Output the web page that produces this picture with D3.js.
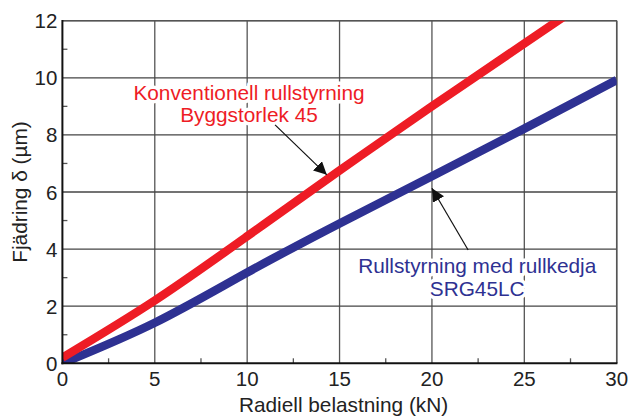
<!DOCTYPE html>
<html><head><meta charset="utf-8">
<script src="https://cdn.jsdelivr.net/npm/d3@7"></script>
<style>body{margin:0;background:#fff}svg{display:block}text{font-family:"Liberation Sans",Arial,sans-serif}</style>
</head><body>
<svg id="c" width="636" height="416"></svg>
<script>
const xTicks = [0,5,10,15,20,25,30];
const yTicks = [0,2,4,6,8,10,12];
const xMinor = [2.5,7.5,12.5,17.5,22.5,27.5];
const yMinor = [1,3,5,7,9,11];
const redX = [0,5,10,15,20,25,27.5];
const redY = [0.2,2.2,4.45,6.75,9.0,11.2,12.3];
const blueX = [0,5,10,15,20,25,30];
const blueY = [0,1.42,3.18,4.9,6.55,8.22,9.92];
const redLabel = ["Konventionell rullstyrning","Byggstorlek 45"];
const blueLabel = ["Rullstyrning med rullkedja","SRG45LC"];
const xTitle = "Radiell belastning (kN)";
const yTitle = "Fjädring δ (µm)";

const W=636,H=416, m={l:62.4,r:19.3,t:20.7,b:52.7};
const svg=d3.select("#c");
const x=d3.scaleLinear().domain([0,30]).range([m.l,W-m.r]);
const y=d3.scaleLinear().domain([0,12]).range([H-m.b,m.t]);

svg.append("defs").append("clipPath").attr("id","clip").append("rect")
  .attr("x",x(0)).attr("y",y(12)).attr("width",x(30)-x(0)).attr("height",y(0)-y(12));
const mk=svg.select("defs").append("marker").attr("id","ah").attr("viewBox","0 0 10 10")
  .attr("refX",10).attr("refY",5).attr("markerWidth",13).attr("markerHeight",13)
  .attr("markerUnits","userSpaceOnUse").attr("orient","auto");
mk.append("path").attr("d","M0,0L10,5L0,10z").attr("fill","#111");

const g=svg.append("g");
g.selectAll(".vg").data(xTicks.slice(1)).join("line")
  .attr("x1",d=>x(d)).attr("x2",d=>x(d)).attr("y1",y(0)).attr("y2",y(12))
  .attr("stroke","#555").attr("stroke-width",1.3);
g.selectAll(".hg").data(yTicks.slice(1)).join("line")
  .attr("x1",x(0)).attr("x2",x(30)).attr("y1",d=>y(d)).attr("y2",d=>y(d))
  .attr("stroke","#444").attr("stroke-width",1.3);
g.selectAll(".xm").data(xMinor).join("line")
  .attr("x1",d=>x(d)).attr("x2",d=>x(d)).attr("y1",y(0)).attr("y2",y(0)-5)
  .attr("stroke","#555").attr("stroke-width",1.3);
g.selectAll(".ym").data(yMinor).join("line")
  .attr("x1",x(0)).attr("x2",x(0)+5).attr("y1",d=>y(d)).attr("y2",d=>y(d))
  .attr("stroke","#555").attr("stroke-width",1.3);

function label(lines,cx,by,col){
  const t=svg.append("g");
  lines.forEach((s,i)=>{
    t.append("text").attr("x",x(cx)).attr("y",by[i]).attr("text-anchor","middle")
      .attr("font-size",20.8).attr("fill",col).attr("stroke","#fff").attr("stroke-width",7)
      .attr("stroke-linejoin","round").attr("paint-order","stroke").text(s);
  });
}
label(redLabel,10.1,[y(9.22),y(8.46)],"#ee1c25");
label(blueLabel,22.45,[y(3.15),y(2.34)],"#2e3192");

svg.append("line").attr("x1",x(0)).attr("x2",x(30)).attr("y1",y(12)).attr("y2",y(12)).attr("stroke","#555").attr("stroke-width",1.5);
svg.append("line").attr("x1",x(30)).attr("x2",x(30)).attr("y1",y(0)).attr("y2",y(12)).attr("stroke","#555").attr("stroke-width",1.5);

const line=d3.line().x(d=>x(d[0])).y(d=>y(d[1])).curve(d3.curveNatural);
const pl=svg.append("g").attr("clip-path","url(#clip)");
pl.append("path").datum(blueX.map((v,i)=>[v,blueY[i]])).attr("d",line)
  .attr("fill","none").attr("stroke","#2e3192").attr("stroke-width",8.5);
pl.append("path").datum(redX.map((v,i)=>[v,redY[i]])).attr("d",line)
  .attr("fill","none").attr("stroke","#ee1c25").attr("stroke-width",8.5);

svg.append("line").attr("x1",x(0)).attr("x2",x(0)).attr("y1",y(0)+1).attr("y2",y(12)-0.7).attr("stroke","#111").attr("stroke-width",2);
svg.append("line").attr("x1",x(0)-1).attr("x2",x(30)+0.7).attr("y1",y(0)).attr("y2",y(0)).attr("stroke","#111").attr("stroke-width",2);

svg.append("line").attr("x1",x(11.51)).attr("y1",y(8.35)).attr("x2",x(14.31)).attr("y2",y(6.6))
  .attr("stroke","#111").attr("stroke-width",1.2).attr("marker-end","url(#ah)");
svg.append("line").attr("x1",x(21.96)).attr("y1",y(3.97)).attr("x2",x(20.0)).attr("y2",y(6.13))
  .attr("stroke","#111").attr("stroke-width",1.2).attr("marker-end","url(#ah)");

svg.selectAll(".xl").data(xTicks).join("text").attr("x",d=>x(d)).attr("y",y(0)+23)
  .attr("text-anchor","middle").attr("font-size",20.5).attr("fill","#222").text(d=>d);
svg.selectAll(".yl").data(yTicks).join("text").attr("x",x(0)-5).attr("y",d=>y(d)+7.5)
  .attr("text-anchor","end").attr("font-size",20.5).attr("fill","#222").text(d=>d);
svg.append("text").attr("x",(x(0)+x(30))/2+4).attr("y",H-4)
  .attr("text-anchor","middle").attr("font-size",20.8).attr("fill","#222").text(xTitle);
svg.append("text").attr("transform",`translate(27,${(y(0)+y(12))/2}) rotate(-90)`)
  .attr("text-anchor","middle").attr("font-size",20.8).attr("fill","#222").text(yTitle);
</script>
</body></html>
